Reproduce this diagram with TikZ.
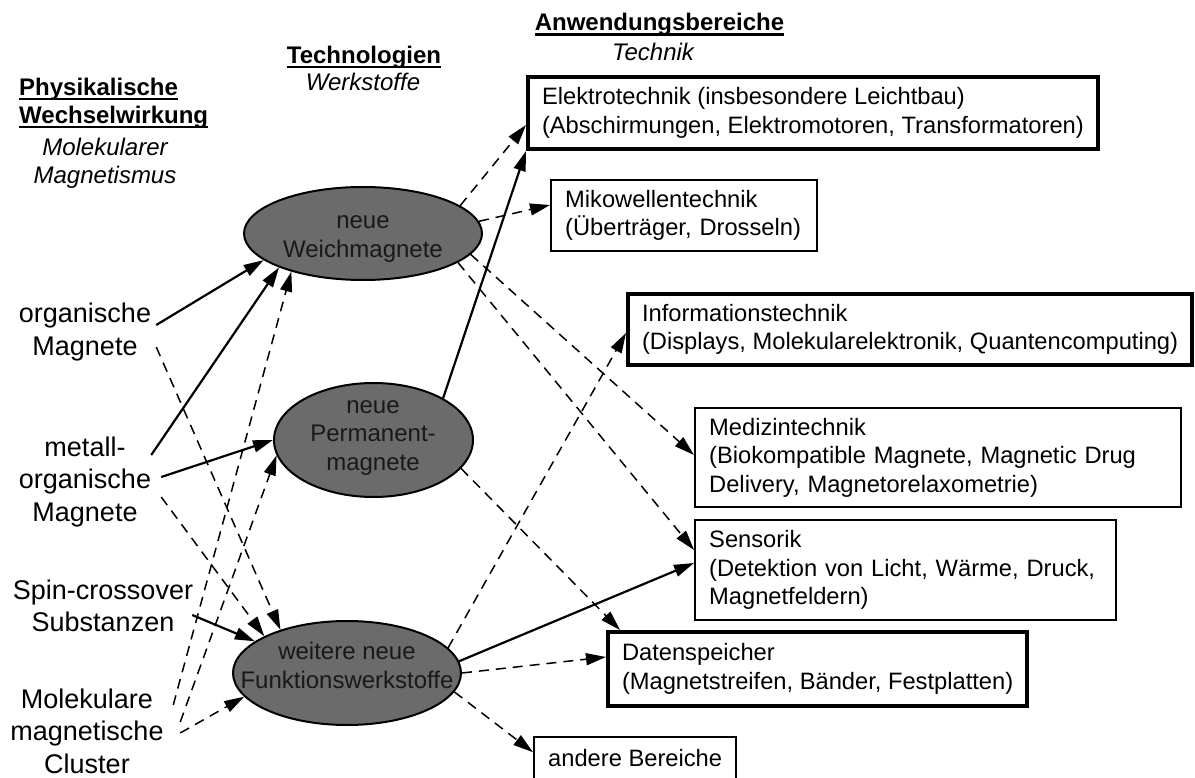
\documentclass[tikz,border=0pt]{standalone}
\usepackage{fontspec}
\setmainfont{Liberation Sans}
\usetikzlibrary{arrows.meta,shapes.geometric}

\definecolor{magfill}{gray}{0.42}
\newcommand\ulhead[1]{\setbox0\hbox{#1}\rlap{\rule[-4.8pt]{\wd0}{2.2pt}}\box0}

\tikzset{
  lbl/.style={align=center,inner sep=0pt,font=\fontsize{27}{32.5}\selectfont},
  head/.style={inner sep=0pt,font=\fontsize{24}{28}\selectfont\bfseries},
  sub/.style={inner sep=0pt,align=center,font=\fontsize{24}{28}\selectfont\itshape},
  magnet/.style={ellipse,draw,line width=2pt,fill=magfill,inner sep=0pt},
  magtext/.style={align=center,inner sep=0pt,text=black!90,font=\fontsize{24}{28.5}\selectfont},
  area/.style={draw,line width=2.4pt,anchor=north west,align=left,inner xsep=14pt,inner ysep=0pt,
    font=\fontsize{23.7}{28.5}\selectfont},
  mainarea/.style={area,line width=4pt},
  link/.style={line width=2.2pt,-{Triangle[length=20pt,width=12pt]}},
  maybe/.style={line width=1.5pt,dash pattern=on 10pt off 7pt,-{Triangle[length=20pt,width=12pt]}},
}

\begin{document}
\begin{tikzpicture}[x=1pt,y=-1pt]
\path[use as bounding box,fill=white] (0,0) rectangle (1195,778);

% column headings
\node[head,align=left,anchor=west] (phys) at (19,103.5) {\ulhead{Physikalische}\\\ulhead{Wechselwirkung}};
\node[sub] (molmag) at (105,163) {Molekularer\\Magnetismus};
\node[head] (tech) at (364,57) {\ulhead{Technologien}};
\node[sub] (werk) at (363,82) {Werkstoffe};
\node[head] (anw) at (659.5,24.75) {\ulhead{Anwendungsbereiche}};
\node[sub] (technik) at (653,52) {Technik};

% substance classes
\node[lbl] (org) at (85,332) {organische\\Magnete};
\node[lbl] (met) at (85,482) {metall-\\organische\\Magnete};
\node[lbl] (spin) at (103,606) {Spin-crossover\\Substanzen};
\node[lbl] (mol) at (87,731) {Molekulare\\magnetische\\Cluster};

% materials
\node[magnet,minimum width=238pt,minimum height=93pt] (weich) at (363,233.5) {};
\node[magnet,minimum width=199pt,minimum height=114pt] (perm) at (373.5,440) {};
\node[magnet,minimum width=228pt,minimum height=104pt] (fkt) at (347,673) {};
\node[magtext] at (363,239) {neue\\Weichmagnete};
\node[magtext] at (373,438) {neue\\Permanent-\\magnete};
\node[magtext] at (347,665.5) {weitere neue\\Funktionswerkstoffe};

% fields of application
\node[mainarea,minimum height=72pt] (elektro) at (526,75)
  {Elektrotechnik (insbesondere Leichtbau)\\(Abschirmungen, Elektromotoren, Transformatoren)};
\node[area,text width=237.6pt,minimum height=70.6pt] (mikro) at (550,179)
  {Mikowellentechnik\\(Überträger, Drosseln)};
\node[mainarea,minimum height=71pt] (info) at (626,292)
  {Informationstechnik\\(Displays, Molekularelektronik, Quantencomputing)};
\node[area,text width=457.6pt,minimum height=98.6pt] (medizin) at (694,407)
  {Medizintechnik\\(Biokompatible Magnete, Magnetic Drug\\Delivery, Magnetorelaxometrie)};
\node[area,text width=392.6pt,minimum height=99.6pt] (sensor) at (694,519)
  {Sensorik\\(Detektion von Licht, Wärme, Druck,\\Magnetfeldern)};
\node[mainarea,minimum height=74pt] (daten) at (606,630)
  {Datenspeicher\\(Magnetstreifen, Bänder, Festplatten)};
\node[area,minimum height=42pt] (andere) at (533,736) {andere Bereiche};

% substances -> materials
\draw[link] ([shift={(5pt,7pt)}]org.east) -- (weich.195);
\draw[maybe] ([shift={(5pt,-15pt)}]org.east) -- (fkt.147);
\draw[link] ([shift={(0pt,27pt)}]met.east) -- (weich.202);
\draw[link] ([shift={(10pt,5pt)}]met.east) -- (perm.180);
\draw[maybe] ([shift={(10pt,-15pt)}]met.east) -- (fkt.156);
\draw[link] ([shift={(-1pt,-9pt)}]spin.east) -- (fkt.161);
\draw[maybe] ([shift={(9.5pt,26pt)}]mol.east) -- (weich.208);
\draw[maybe] ([shift={(16.5pt,9pt)}]mol.east) -- (perm.189);
\draw[maybe] ([shift={(16.5pt,-2pt)}]mol.east) -- (fkt.193);

% materials -> applications
\draw[maybe] (weich.16) -- ([yshift=-12pt]elektro.west);
\draw[maybe] (weich.6) -- ([yshift=10.5pt]mikro.west);
\draw[maybe] (weich.349) -- ([yshift=2.5pt]medizin.west);
\draw[maybe] (weich.343) -- ([yshift=20pt]sensor.west);
\draw[link] (perm.31) -- (elektro.south west);
\draw[maybe] (perm.342) -- ([xshift=14pt]daten.north west);
\draw[maybe] (fkt.14) -- ([yshift=-3.5pt]info.west);
\draw[link] (fkt.6) -- ([yshift=7pt]sensor.west);
\draw[maybe] (fkt.0) -- ([yshift=12pt]daten.west);
\draw[maybe] (fkt.350) -- ([yshift=6pt]andere.west);
\end{tikzpicture}
\end{document}
